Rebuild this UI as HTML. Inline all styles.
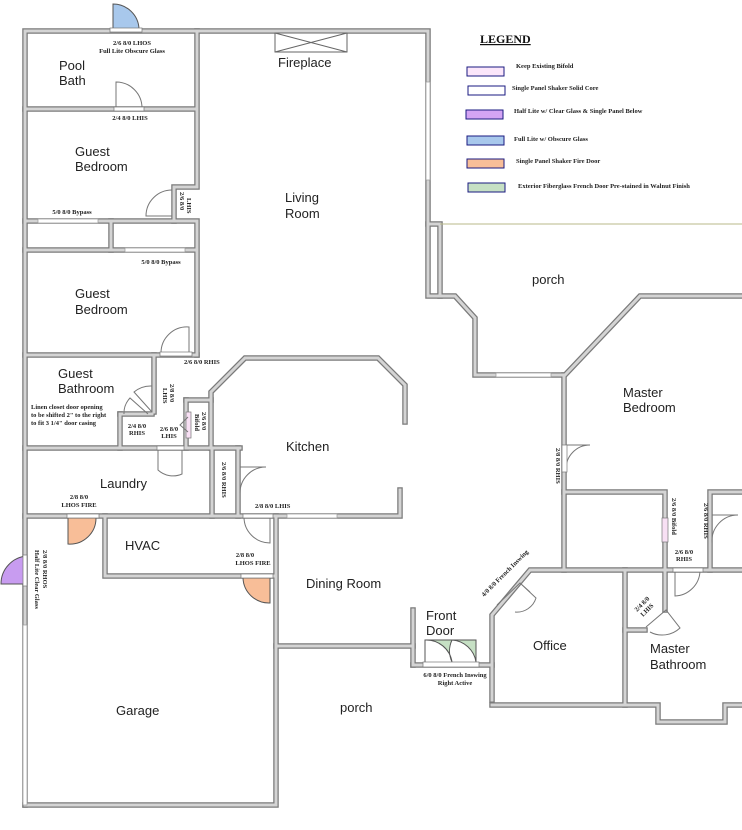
<!DOCTYPE html>
<html><head><meta charset="utf-8"><style>
html,body{margin:0;padding:0;background:#fff;}
svg{display:block;}
.w{fill:none;stroke:#7a7a7a;stroke-width:5.5;stroke-linecap:square;stroke-linejoin:miter;}
.wi{fill:none;stroke:#d4d4d4;stroke-width:3;stroke-linecap:square;stroke-linejoin:miter;}
.r{font-family:"Liberation Sans",sans-serif;font-size:13px;fill:#222;}
.s{font-family:"Liberation Serif",serif;font-size:6.5px;font-weight:bold;fill:#222;}
.l{font-family:"Liberation Serif",serif;font-size:6.5px;font-weight:bold;fill:#222;}
.d{fill:none;stroke:#777;stroke-width:1;}
</style></head><body>
<svg width="742" height="830" viewBox="0 0 742 830" xmlns="http://www.w3.org/2000/svg">
<defs>
<g id="walls">
<path d="M25 805 V31 H428 V296 H455 L475 318 V375 H565 L640 296 H742"/>
<path d="M428 224 H440 V296"/>
<path d="M197 31 V187 H174 V221"/>
<path d="M25 109 H195"/>
<path d="M25 221 H197 V355"/>
<path d="M25 250 H195"/>
<path d="M111 221 V250"/>
<path d="M25 355 H197"/>
<path d="M154 355 V412"/>
<path d="M120 414 V448"/>
<path d="M120 414 H152"/>
<path d="M186 400 V448"/>
<path d="M186 400 H211"/>
<path d="M25 448 H240"/>
<path d="M211 448 V392 L245 358 H378 L405 385 V422"/>
<path d="M212 448 V516"/>
<path d="M238 448 V516"/>
<path d="M25 516 H400 V490"/>
<path d="M105 516 V576 H273"/>
<path d="M276 516 V805 H25"/>
<path d="M276 646 H413 V610"/>
<path d="M413 665 V646"/>
<path d="M413 665 H492"/>
<path d="M492 700 V615 L530 570 H742"/>
<path d="M492 705 H658 V722 H725 V705 H742"/>
<path d="M625 570 V705"/>
<path d="M625 630 H645"/>
<path d="M665 570 V610"/>
<path d="M564 375 V570"/>
<path d="M564 492 H665 V570"/>
<path d="M710 570 V492 H742"/>
</g>
</defs>
<use href="#walls" class="w"/>
<use href="#walls" class="wi"/>
<line x1="440" y1="224" x2="742" y2="224" stroke="#b8b88a" stroke-width="1"/>
<rect x="426" y="82" width="4" height="98" fill="#fff" stroke="#999" stroke-width="0.7"/>
<rect x="287" y="514" width="50" height="4" fill="#fff" stroke="#999" stroke-width="0.7"/>
<rect x="23" y="625" width="4" height="180" fill="#fff" stroke="#999" stroke-width="0.7"/>
<rect x="496" y="373" width="55" height="4" fill="#fff" stroke="#999" stroke-width="0.7"/>
<rect x="38" y="219" width="60" height="4" fill="#fff" stroke="#999" stroke-width="0.7"/>
<rect x="125" y="248" width="60" height="4" fill="#fff" stroke="#999" stroke-width="0.7"/>
<rect x="275" y="33" width="72" height="19" fill="#fff" stroke="#666" stroke-width="1"/>
<path d="M275 33 L347 52 M347 33 L275 52" stroke="#666" stroke-width="1"/>
<path d="M113 29 V4 A26 26 0 0 1 139 29 Z" fill="#a8c8ec" stroke="#555" stroke-width="1"/>
<rect x="110" y="28" width="32" height="4" fill="#fff" stroke="#777" stroke-width="0.7"/>
<path class="d" d="M116 108 V82 A26 26 0 0 1 142 108"/>
<rect x="114" y="107" width="30" height="4" fill="#fff" stroke="#777" stroke-width="0.7"/>
<path class="d" d="M172 216 H146 A26 26 0 0 1 172 190"/>
<path class="d" d="M161 353 A26 26 0 0 1 189 327 V353"/>
<rect x="160" y="352" width="32" height="4" fill="#fff" stroke="#777" stroke-width="0.7"/>
<path class="d" d="M152 412 L134 392 A26 26 0 0 1 152 386"/>
<path class="d" d="M148 414 L130 398 A22 22 0 0 0 124 414"/>
<rect x="186" y="412" width="5" height="26" fill="#f8e0f4" stroke="#777" stroke-width="0.7"/>
<path class="d" d="M188 417 L180 425 L188 432"/>
<path class="d" d="M158 448 V470 A22 22 0 0 0 182 474 V450"/>
<rect x="157" y="446" width="27" height="4" fill="#fff" stroke="#777" stroke-width="0.7"/>
<path class="d" d="M240 467 H266 A26 26 0 0 0 240 493"/>
<path d="M68 518 V544 A26 26 0 0 0 96 518 Z" fill="#f8be98" stroke="#555" stroke-width="1"/>
<rect x="67" y="514" width="32" height="4" fill="#fff" stroke="#777" stroke-width="0.7"/>
<path class="d" d="M270 517 V543 A26 26 0 0 1 244 517"/>
<rect x="243" y="514" width="30" height="4" fill="#fff" stroke="#777" stroke-width="0.7"/>
<path d="M243 578 A26 26 0 0 0 270 603 V578 Z" fill="#f8be98" stroke="#555" stroke-width="1"/>
<rect x="241" y="574" width="32" height="4" fill="#fff" stroke="#777" stroke-width="0.7"/>
<path d="M27 556 A28 28 0 0 0 1 584 H27 Z" fill="#c89cf0" stroke="#555" stroke-width="1"/>
<rect x="23" y="555" width="4" height="31" fill="#fff" stroke="#777" stroke-width="0.7"/>
<path d="M425 662 V640 H476 V662 A26 26 0 0 0 452 640 A26 26 0 0 0 452 662 A26 26 0 0 0 425 640" fill="#c6e0c4" stroke="#555" stroke-width="1"/>
<rect x="423" y="662" width="56" height="5" fill="#fff" stroke="#777" stroke-width="0.7"/>
<path class="d" d="M497 605 L520 583 L536 598 A20 20 0 0 1 515 612 M520 583 L530 592"/>
<path class="d" d="M566 445 H590 A24 24 0 0 0 566 470"/>
<rect x="562" y="445" width="5" height="27" fill="#fff" stroke="#777" stroke-width="0.7"/>
<rect x="662" y="518" width="6" height="24" fill="#f8e0f4" stroke="#777" stroke-width="0.7"/>
<path class="d" d="M712 515 H738 A26 26 0 0 0 712 543"/>
<path class="d" d="M675 571 V596 A26 26 0 0 0 700 571"/>
<rect x="673" y="568" width="30" height="4" fill="#fff" stroke="#777" stroke-width="0.7"/>
<path class="d" d="M646 627 L666 610 L680 628 A26 26 0 0 1 650 632"/>
<text class="r" x="59" y="70">Pool</text><text class="r" x="59" y="85">Bath</text>
<text class="r" x="278" y="67">Fireplace</text>
<text class="r" x="75" y="156">Guest</text><text class="r" x="75" y="171">Bedroom</text>
<text class="r" x="285" y="202">Living</text><text class="r" x="285" y="218">Room</text>
<text class="r" x="75" y="298">Guest</text><text class="r" x="75" y="314">Bedroom</text>
<text class="r" x="532" y="284">porch</text>
<text class="r" x="58" y="378">Guest</text><text class="r" x="58" y="393">Bathroom</text>
<text class="r" x="623" y="397">Master</text><text class="r" x="623" y="412">Bedroom</text>
<text class="r" x="286" y="451">Kitchen</text>
<text class="r" x="100" y="488">Laundry</text>
<text class="r" x="125" y="550">HVAC</text>
<text class="r" x="306" y="588">Dining Room</text>
<text class="r" x="426" y="620">Front</text><text class="r" x="426" y="635">Door</text>
<text class="r" x="533" y="650">Office</text>
<text class="r" x="650" y="653">Master</text><text class="r" x="650" y="669">Bathroom</text>
<text class="r" x="340" y="712">porch</text>
<text class="r" x="116" y="715">Garage</text>
<text class="s" x="132" y="45" text-anchor="middle">2/6 8/0 LHOS</text>
<text class="s" x="132" y="53" text-anchor="middle">Full Lite Obscure Glass</text>
<text class="s" x="130" y="120" text-anchor="middle">2/4 8/0 LHIS</text>
<text class="s" x="72" y="214" text-anchor="middle">5/0 8/0 Bypass</text>
<text class="s" x="161" y="264" text-anchor="middle">5/0 8/0 Bypass</text>
<text class="s" x="184" y="364">2/6 8/0 RHIS</text>
<text class="s" transform="translate(180,192) rotate(90)">2/6 8/0</text>
<text class="s" transform="translate(187,198) rotate(90)">LHIS</text>
<text class="s" transform="translate(170,384) rotate(90)">2/8 8/0</text>
<text class="s" transform="translate(163,388) rotate(90)">LHIS</text>
<text class="s" x="31" y="409">Linen closet door opening</text>
<text class="s" x="31" y="417">to be shifted 2" to the right</text>
<text class="s" x="31" y="425">to fit 3 1/4" door casing</text>
<text class="s" x="137" y="428" text-anchor="middle">2/4 8/0</text>
<text class="s" x="137" y="435" text-anchor="middle">RHIS</text>
<text class="s" x="169" y="431" text-anchor="middle">2/6 8/0</text>
<text class="s" x="169" y="438" text-anchor="middle">LHIS</text>
<text class="s" transform="translate(202,412) rotate(90)">2/6 8/0</text>
<text class="s" transform="translate(195,414) rotate(90)">Bifold</text>
<text class="s" transform="translate(222,462) rotate(90)">2/6 8/0 RHIS</text>
<text class="s" x="79" y="499" text-anchor="middle">2/8 8/0</text>
<text class="s" x="79" y="507" text-anchor="middle">LHOS FIRE</text>
<text class="s" x="255" y="508">2/8 8/0 LHIS</text>
<text class="s" x="245" y="557" text-anchor="middle">2/8 8/0</text>
<text class="s" x="253" y="565" text-anchor="middle">LHOS FIRE</text>
<text class="s" transform="translate(43,550) rotate(90)">2/8 8/0 RHOS</text>
<text class="s" transform="translate(35,550) rotate(90)">Half Lite Clear Glass</text>
<text class="s" transform="translate(556,448) rotate(90)">2/8 8/0 RHIS</text>
<text class="s" transform="translate(484,597) rotate(-45)">4/0 8/0 French Inswing</text>
<text class="s" x="455" y="677" text-anchor="middle">6/0 8/0 French Inswing</text>
<text class="s" x="455" y="685" text-anchor="middle">Right Active</text>
<text class="s" transform="translate(672,498) rotate(90)">2/6 8/0 Bifold</text>
<text class="s" transform="translate(704,503) rotate(90)">2/6 8/0 RHIS</text>
<text class="s" x="684" y="554" text-anchor="middle">2/6 8/0</text>
<text class="s" x="684" y="561" text-anchor="middle">RHIS</text>
<text class="s" transform="translate(637,612) rotate(-45)">2/4 8/0</text>
<text class="s" transform="translate(643,617) rotate(-45)">LHIS</text>
<text x="480" y="43" font-family="Liberation Serif,serif" font-size="12" font-weight="bold" fill="#111" text-decoration="underline">LEGEND</text>
<rect x="467" y="67" width="37" height="9" fill="#fbe6fa" stroke="#1a1a80" stroke-width="1"/>
<rect x="468" y="86" width="37" height="9" fill="#fff" stroke="#1a1a80" stroke-width="1"/>
<rect x="466" y="110" width="37" height="9" fill="#d4a4f4" stroke="#1a1a80" stroke-width="1"/>
<rect x="467" y="136" width="37" height="9" fill="#a8c8ec" stroke="#1a1a80" stroke-width="1"/>
<rect x="467" y="159" width="37" height="9" fill="#f8be98" stroke="#1a1a80" stroke-width="1"/>
<rect x="468" y="183" width="37" height="9" fill="#c6e0c4" stroke="#1a1a80" stroke-width="1"/>
<text class="l" x="516" y="68">Keep Existing Bifold</text>
<text class="l" x="512" y="90">Single Panel Shaker Solid Core</text>
<text class="l" x="514" y="113">Half Lite w/ Clear Glass &amp; Single Panel Below</text>
<text class="l" x="514" y="141">Full Lite w/ Obscure Glass</text>
<text class="l" x="516" y="163">Single Panel Shaker Fire Door</text>
<text class="l" x="518" y="188">Exterior Fiberglass French Door Pre-stained in Walnut Finish</text>
</svg>
</body></html>
